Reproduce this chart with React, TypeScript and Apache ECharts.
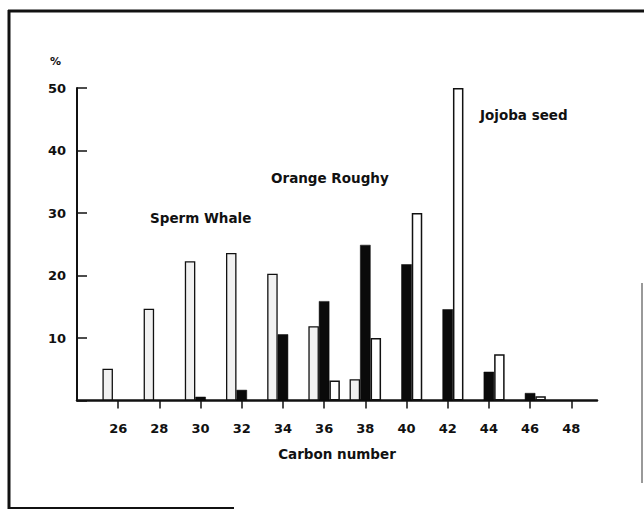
import React, { useEffect, useRef } from "react";
import * as echarts from "echarts";

const carbonTicks = [26, 28, 30, 32, 34, 36, 38, 40, 42, 44, 46, 48];
const spermCarbons = [26, 28, 30, 32, 34, 36, 38];
const spermValues = [5.1, 14.7, 22.3, 23.6, 20.3, 11.9, 3.4];
const roughyCarbons = [30, 32, 34, 36, 38, 40, 42, 44, 46];
const roughyValues = [0.6, 1.7, 10.6, 15.9, 24.9, 21.8, 14.6, 4.6, 1.2];
const jojobaCarbons = [36, 38, 40, 42, 44, 46];
const jojobaValues = [3.2, 10.0, 30.0, 50.0, 7.4, 0.7];
const seriesNames = ["Sperm Whale", "Orange Roughy", "Jojoba seed"];

const FONT = "DejaVu Sans";
const INK = "#111";

const pairs = (xs: number[], ys: number[]) => xs.map((x, i) => [x, ys[i]]);

export default function App() {
  const ref = useRef<HTMLDivElement>(null);
  useEffect(() => {
    if (!ref.current) return;
    const chart = echarts.init(ref.current, null, { renderer: "svg" });
    const txt = (text: string, x: number, y: number, size = 13.5) => ({
      type: "text",
      x,
      y,
      style: {
        text,
        fill: INK,
        font: `bold ${size}px "${FONT}"`,
        textVerticalAlign: "middle",
        verticalAlign: "middle",
      },
    });
    const ln = (x1: number, y1: number, x2: number, y2: number, w: number, c = INK) => ({
      type: "line",
      shape: { x1, y1, x2, y2 },
      style: { stroke: c, lineWidth: w },
    });
    chart.setOption({
      animation: false,
      backgroundColor: "#fff",
      grid: { left: 77, right: 47, top: 88, bottom: 109.5, containLabel: false },
      xAxis: {
        type: "value",
        min: 24,
        max: 49.25,
        interval: 2,
        name: "Carbon number",
        nameLocation: "middle",
        nameGap: 46,
        nameTextStyle: { color: INK, fontFamily: FONT, fontWeight: "bold", fontSize: 13.5 },
        axisLine: { show: true, onZero: false, lineStyle: { color: INK, width: 2.5 } },
        axisTick: { show: true, customValues: carbonTicks, length: 8, lineStyle: { color: INK, width: 1.5 } },
        axisLabel: {
          customValues: carbonTicks,
          margin: 21,
          color: INK,
          fontFamily: FONT,
          fontWeight: "bold",
          fontSize: 13,
        },
        splitLine: { show: false },
      },
      yAxis: {
        type: "value",
        min: 0,
        max: 50,
        interval: 10,
        axisLine: { show: true, lineStyle: { color: INK, width: 2 } },
        axisTick: { show: true, inside: true, length: 10, lineStyle: { color: INK, width: 1.5 } },
        axisLabel: {
          formatter: (v: number) => (v === 0 ? "" : String(v)),
          margin: 11,
          color: INK,
          fontFamily: FONT,
          fontWeight: "bold",
          fontSize: 13,
        },
        splitLine: { show: false },
      },
      series: [
        {
          name: seriesNames[0],
          type: "bar",
          barWidth: 10.5,
          barGap: "0%",
          data: pairs(spermCarbons, spermValues),
          itemStyle: { color: "#f1f1f1", borderColor: INK, borderWidth: 1.3 },
        },
        {
          name: seriesNames[1],
          type: "bar",
          barWidth: 10.5,
          barGap: "0%",
          data: pairs(roughyCarbons, roughyValues),
          itemStyle: { color: "#0a0a0a", borderColor: "#0a0a0a", borderWidth: 0.5 },
        },
        {
          name: seriesNames[2],
          type: "bar",
          barWidth: 10.5,
          barGap: "0%",
          data: pairs(jojobaCarbons, jojobaValues),
          itemStyle: { color: "#fff", borderColor: INK, borderWidth: 1.5 },
        },
      ],
      graphic: [
        ln(8, 11, 644, 11, 3),
        ln(9, 10, 9, 509, 3),
        ln(8, 508, 234, 508, 2),
        ln(642, 283, 642, 483, 1.2, "#555"),
        txt("%", 50, 61, 11),
        txt(seriesNames[0], 150, 218),
        txt(seriesNames[1], 271, 178),
        txt(seriesNames[2], 480, 115),
      ],
    });
    return () => chart.dispose();
  }, []);
  return (
    <div
      ref={ref}
      style={{ position: "fixed", left: 0, top: 0, width: 644, height: 510, background: "#fff" }}
    />
  );
}
